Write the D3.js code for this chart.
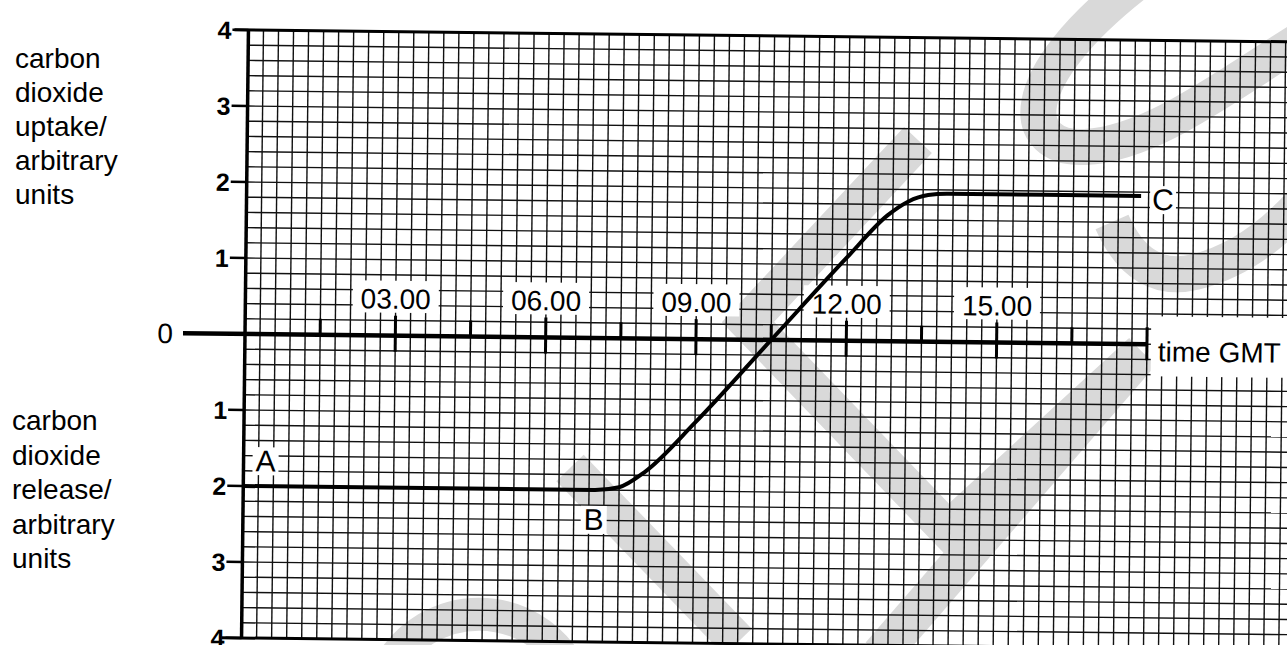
<!DOCTYPE html>
<html>
<head>
<meta charset="utf-8">
<script src="https://cdn.jsdelivr.net/npm/d3@7"></script>
<style>
  body { margin: 0; background: #fff; }
  svg { display: block; }
  text { font-family: "Liberation Sans", Arial, Helvetica, sans-serif; fill: #000; }
</style>
</head>
<body>
<div id="chart"></div>
<script>
// time in hours GMT, CO2 exchange (positive = uptake, negative = release)
const hours = [0, 7.0, 7.5, 8.0, 9.0, 10.5, 12.0, 12.8, 13.2, 13.6, 14.0, 17.85];
const co2 = [-2, -2, -1.96, -1.76, -1.1, 0, 1.1, 1.66, 1.84, 1.93, 1.95, 1.95];

const timeTicks = [3, 6, 9, 12, 15];
const timeLabels = ["03.00", "06.00", "09.00", "12.00", "15.00"];
const yTicks = [4, 3, 2, 1, -1, -2, -3, -4];
const yLabels = ["4", "3", "2", "1", "1", "2", "3", "4"];
const pointNames = ["A", "B", "C"];
const pointIndex = [0, 1, 11];
const upperTitle = ["carbon", "dioxide", "uptake/", "arbitrary", "units"];
const lowerTitle = ["carbon", "dioxide", "release/", "arbitrary", "units"];

const width = 1287;
const height = 645;

const svg = d3.select("#chart")
    .append("svg")
    .attr("width", width)
    .attr("height", height);

// faint watermark of the scan, sits under the graph paper
const wm = svg.append("g")
    .attr("fill", "none")
    .attr("stroke", "#d9d9d9")
    .attr("stroke-width", 38);
wm.append("path").attr("d", "M918,140 L748,322 L948,530 L1142,352");
wm.append("path").attr("d", "M1142,352 L880,655");
wm.append("path").attr("d", "M570,468 L738,642");
wm.append("path").attr("stroke-width", 33).attr("d", "M392,662 A103,103 0 0 1 566,662");
wm.append("path").attr("stroke-width", 36).attr("d", "M1140,-20 C1010,80 1020,150 1085,147 S1220,90 1300,40");
wm.append("path").attr("stroke-width", 36).attr("d", "M1112,222 Q1140,285 1195,272 T1300,205");

// scanned sheet is a little skewed, rotate the whole plot about the origin
const g = svg.append("g")
    .attr("transform", "translate(245,334) rotate(0.65)");

const x = d3.scaleLinear().domain([0, 18]).range([0, 902]);
const y = d3.scaleLinear().domain([-4, 4]).range([304, -304]);

// graph paper
const gridX = d3.range(0, 21.01, 0.3);
const gridY = d3.range(-4, 4.001, 0.2);

g.append("g")
    .selectAll("line")
    .data(gridX)
    .enter().append("line")
    .attr("x1", d => x(d)).attr("x2", d => x(d))
    .attr("y1", y(4)).attr("y2", y(-4))
    .attr("stroke", "#111")
    .attr("stroke-width", 1.4);

g.append("g")
    .selectAll("line")
    .data(gridY)
    .enter().append("line")
    .attr("x1", x(0)).attr("x2", x(21))
    .attr("y1", d => y(d)).attr("y2", d => y(d))
    .attr("stroke", "#111")
    .attr("stroke-width", 1.4);

// frame
g.append("line")
    .attr("x1", x(0)).attr("x2", x(0))
    .attr("y1", y(4)).attr("y2", y(-4))
    .attr("stroke", "#000").attr("stroke-width", 3.5);
g.append("line")
    .attr("x1", -14).attr("x2", x(21))
    .attr("y1", y(4)).attr("y2", y(4))
    .attr("stroke", "#000").attr("stroke-width", 3);
g.append("line")
    .attr("x1", -20).attr("x2", x(21))
    .attr("y1", y(-4)).attr("y2", y(-4))
    .attr("stroke", "#000").attr("stroke-width", 3);

// y ticks and labels
g.append("g")
    .selectAll("line")
    .data(yTicks)
    .enter().append("line")
    .attr("x1", -16).attr("x2", 0)
    .attr("y1", d => y(d)).attr("y2", d => y(d))
    .attr("stroke", "#000").attr("stroke-width", 2.5);

g.append("g")
    .selectAll("text")
    .data(yTicks)
    .enter().append("text")
    .attr("x", -17)
    .attr("y", d => y(d) + 9)
    .attr("text-anchor", "end")
    .attr("font-size", 25)
    .attr("font-weight", "bold")
    .text((d, i) => yLabels[i]);

g.append("text")
    .attr("x", -72)
    .attr("y", y(0) + 10)
    .attr("text-anchor", "end")
    .attr("font-size", 28)
    .text("0");

// time axis
g.append("line")
    .attr("x1", -62).attr("x2", x(18))
    .attr("y1", y(0)).attr("y2", y(0))
    .attr("stroke", "#000").attr("stroke-width", 4.5);

const minorTicks = d3.range(1.5, 18, 1.5).filter(d => d % 3 !== 0);
g.append("g")
    .selectAll("line")
    .data(minorTicks)
    .enter().append("line")
    .attr("x1", d => x(d)).attr("x2", d => x(d))
    .attr("y1", -16).attr("y2", 0)
    .attr("stroke", "#000").attr("stroke-width", 3);

g.append("g")
    .selectAll("line")
    .data(timeTicks)
    .enter().append("line")
    .attr("x1", d => x(d)).attr("x2", d => x(d))
    .attr("y1", -20).attr("y2", 16)
    .attr("stroke", "#000").attr("stroke-width", 3);

g.append("line")
    .attr("x1", x(18)).attr("x2", x(18))
    .attr("y1", -17).attr("y2", 16)
    .attr("stroke", "#000").attr("stroke-width", 3);

const tl = g.append("g")
    .selectAll("g")
    .data(timeTicks)
    .enter().append("g")
    .attr("transform", d => `translate(${x(d)},0)`);
tl.append("rect")
    .attr("x", -43).attr("y", -55)
    .attr("width", 86).attr("height", 32)
    .attr("fill", "#fff");
tl.append("text")
    .attr("y", -27)
    .attr("text-anchor", "middle")
    .attr("font-size", 28)
    .text((d, i) => timeLabels[i]);

g.append("rect")
    .attr("x", x(18) + 4).attr("y", -28)
    .attr("width", 160).attr("height", 60)
    .attr("fill", "#fff");
g.append("text")
    .attr("x", x(18) + 11)
    .attr("y", 17)
    .attr("font-size", 28)
    .text("time GMT");

// the curve
const line = d3.line()
    .x(d => x(d[0]))
    .y(d => y(d[1]))
    .curve(d3.curveMonotoneX);

g.append("path")
    .datum(hours.map((h, i) => [h, co2[i]]))
    .attr("d", line)
    .attr("fill", "none")
    .attr("stroke", "#000")
    .attr("stroke-width", 4);

// point letters
const offsets = [[22, -15], [0, 40], [22, 14]];
const pl = g.append("g")
    .selectAll("g")
    .data(pointIndex)
    .enter().append("g")
    .attr("transform", (d, i) => `translate(${x(hours[d]) + offsets[i][0]},${y(co2[d]) + offsets[i][1]})`);
pl.append("rect")
    .attr("x", -13).attr("y", -24)
    .attr("width", 26).attr("height", 28)
    .attr("fill", "#fff");
pl.append("text")
    .attr("text-anchor", "middle")
    .attr("font-size", 30)
    .text((d, i) => pointNames[i]);

// axis titles
svg.append("text")
    .attr("x", 15).attr("y", 68)
    .attr("font-size", 28)
    .selectAll("tspan")
    .data(upperTitle)
    .enter().append("tspan")
    .attr("x", 15)
    .attr("dy", (d, i) => i === 0 ? 0 : 34)
    .text(d => d);

svg.append("text")
    .attr("x", 12).attr("y", 430)
    .attr("font-size", 28)
    .selectAll("tspan")
    .data(lowerTitle)
    .enter().append("tspan")
    .attr("x", 12)
    .attr("dy", (d, i) => i === 0 ? 0 : 34.5)
    .text(d => d);
</script>
</body>
</html>
